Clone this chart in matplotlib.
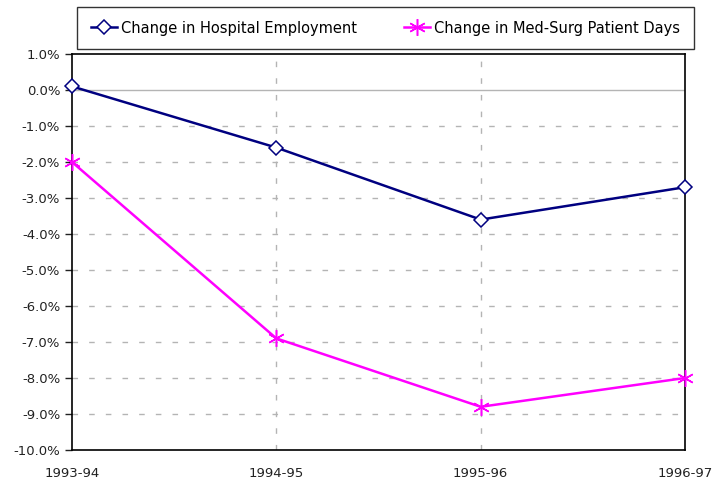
import numpy as np
import matplotlib.pyplot as plt
from matplotlib.ticker import FuncFormatter

# yearly change, in percent
years = ['1993-94', '1994-95', '1995-96', '1996-97']
employment = [0.1, -1.6, -3.6, -2.7]
patient_days = [-2.0, -6.9, -8.8, -8.0]

plt.rcParams['font.family'] = ['DejaVu Sans']

fig = plt.figure(figsize=(7.12, 4.82), dpi=100)
ax = fig.add_axes([72/712, 1-450/482, (685-72)/712, (450-54)/482])

x = np.arange(len(years))
ax.plot(x, employment, color='#000080', lw=1.8, marker='D', ms=7.5,
        mfc='white', mec='#000080', mew=1.1, label='Change in Hospital Employment',
        zorder=3, clip_on=False)
ax.plot(x, patient_days, color='#ff00ff', lw=1.8, marker=(6, 2, 0), ms=12,
        mec='#ff00ff', mew=1.1, label='Change in Med-Surg Patient Days',
        zorder=3, clip_on=False)

ax.set_xlim(0, 3)
ax.set_ylim(-10, 1)
ax.set_yticks(np.arange(-10, 1.5, 1))
ax.yaxis.set_major_formatter(FuncFormatter(lambda v, p: '%.1f%%' % v))
ax.set_xticks(x)
ax.set_xticklabels(years)
ax.tick_params(axis='y', length=5, width=1, labelsize=9.5, colors='#222222')
ax.tick_params(axis='x', length=0, pad=12, labelsize=9.5, colors='#222222')

for v in np.arange(-9, 1, 1):
    if v == 0:
        ax.axhline(0, color='#b4b4b4', lw=1, zorder=1)
    else:
        ax.axhline(v, color='#b4b4b4', lw=1, ls=(0, (4, 8)), zorder=1)
for xi in x[1:-1]:
    ax.axvline(xi, color='#b4b4b4', lw=1, ls=(0, (4, 8)), zorder=1)

for s in ax.spines.values():
    s.set_color('black')
    s.set_linewidth(1.2)

leg = fig.legend(loc='center', bbox_to_anchor=((78+693)/2/712, 1-28/482), ncol=2,
                 frameon=True, fancybox=False, edgecolor='black', fontsize=10.5,
                 handlelength=1.8, handletextpad=0.3, columnspacing=3.2,
                 borderpad=0.9, borderaxespad=0)
leg.get_frame().set_linewidth(1.0)

fig.savefig('out.png', dpi=100)
